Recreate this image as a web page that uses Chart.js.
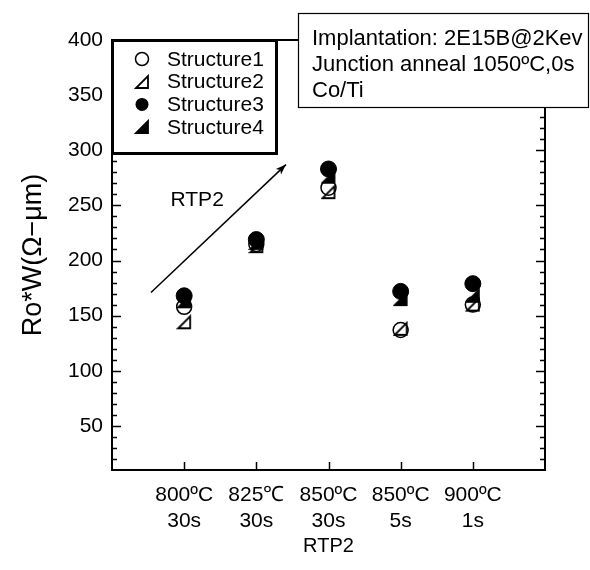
<!DOCTYPE html>
<html><head><meta charset="utf-8">
<script src="https://cdn.jsdelivr.net/npm/chart.js@4"></script>
<style>html,body{margin:0;padding:0;background:#fff;} #wrap{width:590px;height:570px;position:relative;}</style>
</head><body><div id="wrap"><canvas id="c"></canvas></div>
<script>
// ---- data ----
const categories = [['800ºC','30s'],['825℃','30s'],['850ºC','30s'],['850ºC','5s'],['900ºC','1s']];
const structure1 = [158, 215, 266, 137, 160];
const structure2 = [144, 213, 262, 138, 160];
const structure3 = [168, 219, 283, 172, 179];
const structure4 = [163, 216, 276, 165, 168];
const seriesNames = ['Structure1','Structure2','Structure3','Structure4'];
const yTickValues = [50,100,150,200,250,300,350,400];
const annotationLines = ['Implantation: 2E15B@2Kev','Junction anneal 1050ºC,0s','Co/Ti'];
const arrowLabelText = 'RTP2';
const xTitle = 'RTP2';
const yTitle = 'Ro*W(Ω−μm)';

// annotation anchors in data space
const arrowFrom = {x:-0.46, y:171};
const arrowTo = {x:1.41, y:287};
const arrowLabelPos = {x:0.18, y:255};

const FONT = "'Liberation Sans', Arial, sans-serif";

function triCanvas(filled){
  const s=16, c=document.createElement('canvas'); c.width=s; c.height=s;
  const g=c.getContext('2d');
  g.beginPath(); g.moveTo(2,14); g.lineTo(14,14); g.lineTo(14,2); g.closePath();
  g.lineWidth=1.8; g.strokeStyle='#000'; g.lineJoin='miter';
  if(filled){ g.fillStyle='#000'; g.fill(); }
  g.stroke();
  return c;
}
const triOpen = triCanvas(false), triFilled = triCanvas(true);

const toXY = arr => arr.map((v,i)=>({x:i, y:v}));

const markerStyles = [
  {pointStyle:'circle', pointRadius:7.5, pointBackgroundColor:'rgba(255,255,255,0)', pointBorderWidth:1.5},
  {pointStyle:triOpen, pointRadius:8, pointBackgroundColor:'rgba(0,0,0,0)', pointBorderWidth:1},
  {pointStyle:'circle', pointRadius:8, pointBackgroundColor:'#000', pointBorderWidth:1},
  {pointStyle:triFilled, pointRadius:8, pointBackgroundColor:'#000', pointBorderWidth:1},
];
const seriesData = [structure1, structure2, structure3, structure4];
const orders = [3,4,1,2];

const datasets = seriesData.map((d,i)=>Object.assign({
  label: seriesNames[i], data: toXY(d), showLine:false,
  pointBorderColor:'#000', order: orders[i], pointHoverRadius: 8
}, markerStyles[i]));

const decor = {
  id:'decor',
  beforeDatasetsDraw(chart){
    const {ctx, chartArea:a, scales:{x,y}} = chart;
    ctx.save();
    ctx.strokeStyle='#000'; ctx.lineWidth=2;
    ctx.strokeRect(a.left, a.top, a.right-a.left, a.bottom-a.top);
    ctx.lineWidth=1.5;
    for(let v=20; v<=390; v+=10){
      const py = Math.round(y.getPixelForValue(v))+0.5;
      const len = (v%50===0)?9:5;
      ctx.beginPath();
      ctx.moveTo(a.left, py); ctx.lineTo(a.left+len, py);
      ctx.moveTo(a.right, py); ctx.lineTo(a.right-len, py);
      ctx.stroke();
    }
    categories.forEach((c,i)=>{
      const px = Math.round(x.getPixelForValue(i))+0.5;
      ctx.beginPath(); ctx.moveTo(px, a.bottom); ctx.lineTo(px, a.bottom-8); ctx.stroke();
    });
    const x0=x.getPixelForValue(arrowFrom.x), y0=y.getPixelForValue(arrowFrom.y);
    const x1=x.getPixelForValue(arrowTo.x), y1=y.getPixelForValue(arrowTo.y);
    ctx.lineWidth=1.5;
    ctx.beginPath(); ctx.moveTo(x0,y0); ctx.lineTo(x1,y1); ctx.stroke();
    const ang=Math.atan2(y1-y0, x1-x0), hl=11, hw=0.35;
    ctx.beginPath();
    ctx.moveTo(x1,y1);
    ctx.lineTo(x1-hl*Math.cos(ang-hw), y1-hl*Math.sin(ang-hw));
    ctx.lineTo(x1-hl*0.7*Math.cos(ang), y1-hl*0.7*Math.sin(ang));
    ctx.lineTo(x1-hl*Math.cos(ang+hw), y1-hl*Math.sin(ang+hw));
    ctx.closePath(); ctx.fillStyle='#000'; ctx.fill();
    ctx.font = '21px '+FONT; ctx.textAlign='center'; ctx.textBaseline='middle';
    ctx.fillText(arrowLabelText, x.getPixelForValue(arrowLabelPos.x), y.getPixelForValue(arrowLabelPos.y));
    ctx.restore();
  },
  afterDatasetsDraw(chart){
    const {ctx, chartArea:a} = chart;
    ctx.save();
    const lx=a.left, ly=a.top, lw=164, lh=113;
    ctx.fillStyle='#fff'; ctx.fillRect(lx,ly,lw,lh);
    ctx.strokeStyle='#000'; ctx.lineWidth=3; ctx.strokeRect(lx+0.5,ly+0.5,lw,lh);
    ctx.font='21px '+FONT; ctx.textAlign='left'; ctx.textBaseline='middle'; ctx.fillStyle='#000';
    seriesNames.forEach((n,i)=>{
      const cy = ly + 19 + i*22.7, cx = lx + 30;
      const st = markerStyles[i];
      if(st.pointStyle==='circle'){
        ctx.beginPath(); ctx.arc(cx, cy, 6.5, 0, Math.PI*2);
        ctx.lineWidth=1.5;
        if(i===2){ ctx.fill(); } else { ctx.stroke(); }
      } else {
        ctx.drawImage(st.pointStyle, Math.round(cx-8), Math.round(cy-8));
      }
      ctx.fillText(n, lx+55, cy+1);
    });
    const bx=298, by=13, bw=291, bh=94;
    ctx.fillStyle='#fff'; ctx.fillRect(bx,by,bw,bh);
    ctx.lineWidth=1.2; ctx.strokeStyle='#000'; ctx.strokeRect(bx+0.5,by+0.5,bw-1,bh);
    ctx.fillStyle='#000'; ctx.font='22px '+FONT;
    annotationLines.forEach((t,i)=>ctx.fillText(t, bx+14, by+26+i*26));
    ctx.restore();
  }
};

new Chart(document.getElementById('c'), {
  type:'scatter',
  data:{datasets},
  options:{
    responsive:true, maintainAspectRatio:false, animation:false,
    devicePixelRatio:1,
    layout:{padding:{left:0, right:45, top:40, bottom:0}},
    plugins:{legend:{display:false}, tooltip:{enabled:false}},
    scales:{
      x:{
        type:'linear', min:-1, max:5,
        grid:{display:false, drawTicks:false}, border:{display:false},
        afterBuildTicks(s){ s.ticks = categories.map((c,i)=>({value:i})); },
        afterFit(s){ s.height = 100; },
        ticks:{color:'#000', padding:13, maxRotation:0, autoSkip:false,
          font:{family:FONT, size:21, lineHeight:1.2},
          callback:(v)=>categories[v] ?? ''},
        title:{display:true, text:xTitle, color:'#000', font:{family:FONT, size:20}, padding:{top:0,bottom:12}}
      },
      y:{
        type:'linear', min:10, max:400,
        grid:{display:false, drawTicks:false}, border:{display:false},
        afterBuildTicks(s){ s.ticks = yTickValues.map(v=>({value:v})); },
        afterFit(s){ s.width = 112; },
        ticks:{color:'#000', padding:9, font:{family:FONT, size:21}},
        title:{display:true, text:yTitle, color:'#000', font:{family:FONT, size:27}, padding:{top:17,bottom:0}}
      }
    }
  },
  plugins:[decor]
});
</script></body></html>
